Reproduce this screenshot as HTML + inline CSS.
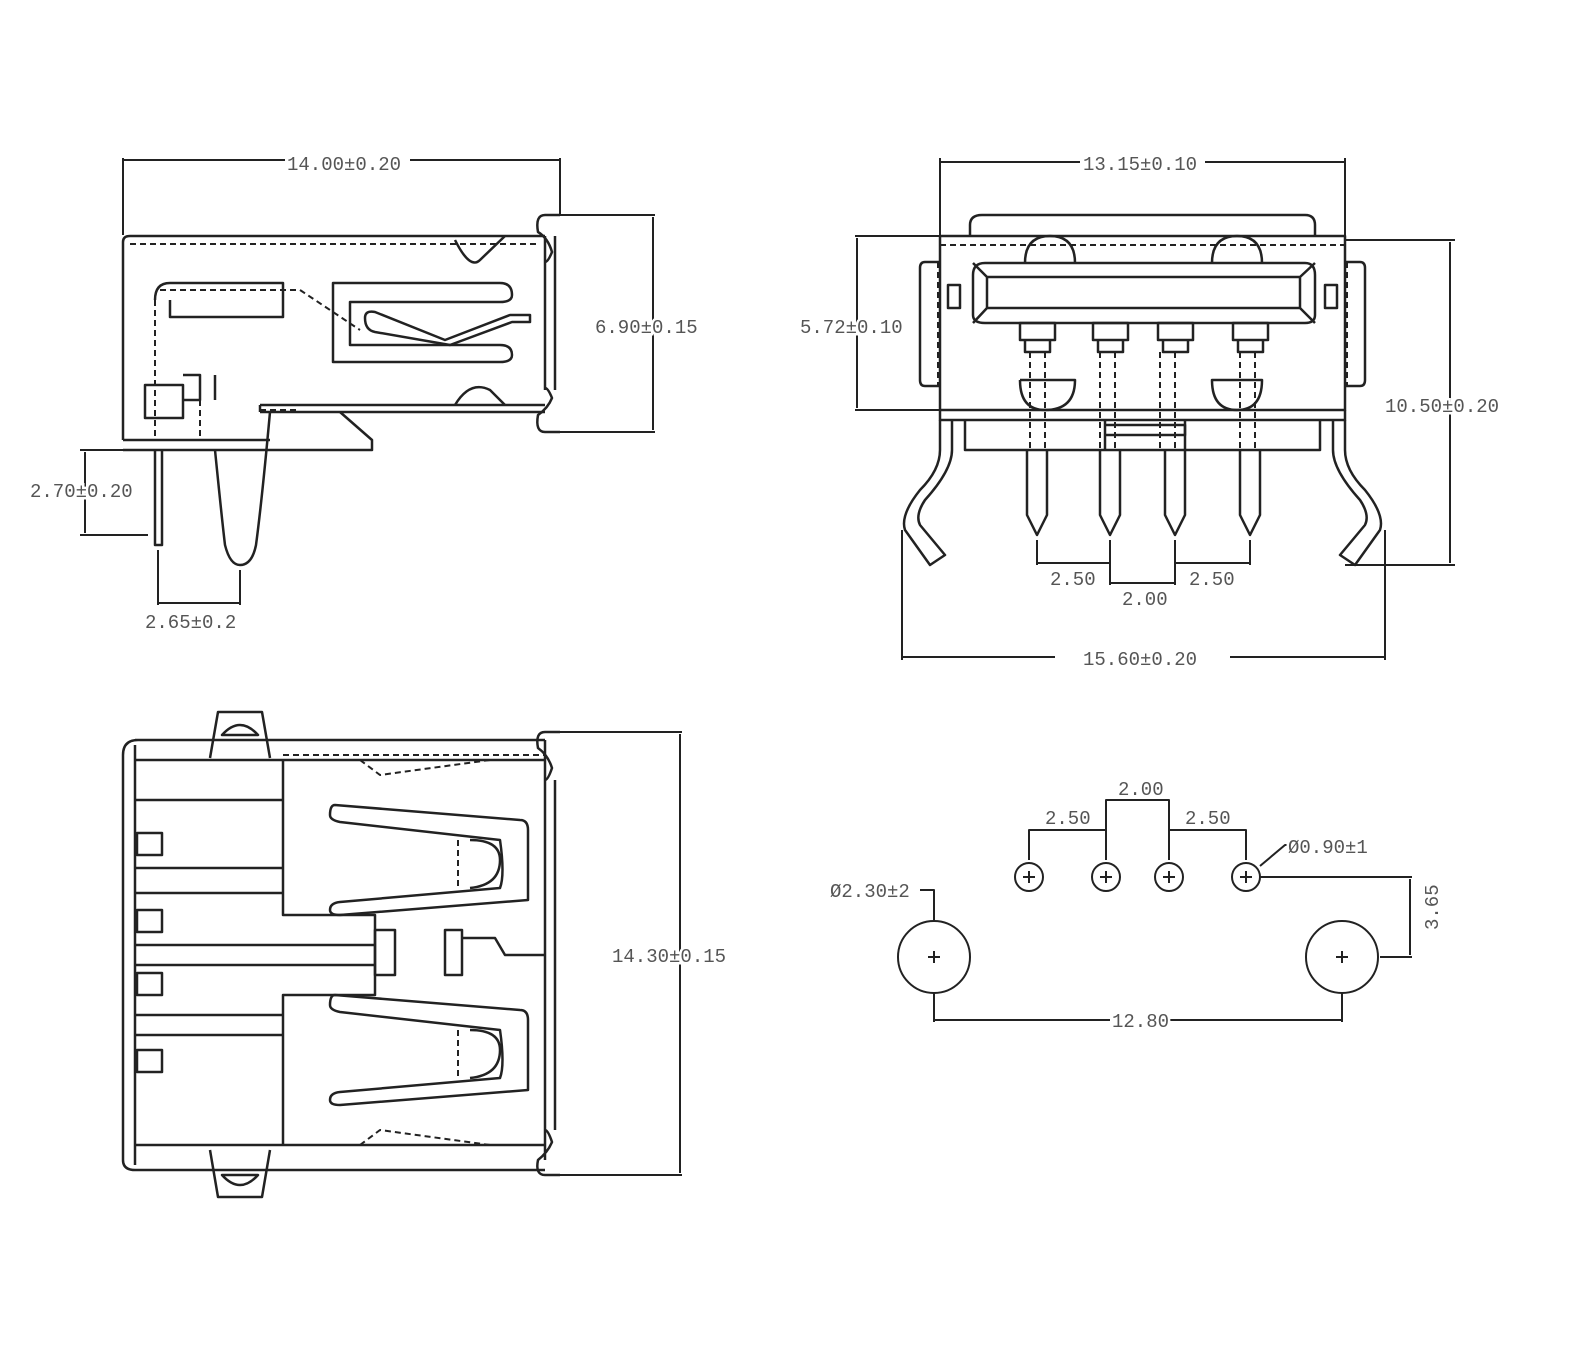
<!DOCTYPE html>
<html><head><meta charset="utf-8"><style>
html,body{margin:0;padding:0;background:#fff}
svg{display:block}
text{font-family:"Liberation Mono",monospace;font-size:19px;fill:#555;stroke:#fff;stroke-width:5px;paint-order:stroke}
</style></head><body>
<svg width="1574" height="1352" viewBox="0 0 1574 1352" xmlns="http://www.w3.org/2000/svg">
<rect width="1574" height="1352" fill="#fff"/>
<g fill="none" stroke="#222" stroke-width="2.5" stroke-linejoin="round">
<path d="M123 160H285M410 160H560M123 158V235M560 158V215" stroke-width="2"/>
<path d="M123 440V242Q123 236 130 236H545"/>
<path d="M545 236V390M555 236V390"/>
<path d="M545 215H560M545 215Q535 215 538 232Q548 238 552 252Q548 262 545 262"/>
<path d="M545 432H560M545 432Q535 432 538 415Q548 408 552 398Q548 388 545 388"/>
<path d="M260 405H545M260 412H545M260 405V412"/>
<path d="M123 440H270M123 450H372V440L340 412"/>
<path d="M155 450V545H162V450"/>
<path d="M215 450Q222 520 225 545Q230 565 240 565Q252 565 256 545Q262 500 270 412"/>
<path d="M155 300Q155 283 170 283H283V317H170V300"/>
<path d="M333 283H500Q512 283 512 295Q512 302 500 302H350V345H500Q512 345 512 355Q512 362 500 362H333Z"/>
<path d="M365 318Q365 310 375 312L445 340L510 315H530V322H512L450 345L375 332Q365 330 365 318Z"/>
<path d="M455 240Q470 270 480 260L505 236M455 405Q470 380 490 390L505 405"/>
<path d="M145 385H183V418H145ZM183 375H200V400H183M215 375V400"/>
<path d="M130 244H540M160 290H300L360 330M155 300V440M200 380V440M260 410H300" stroke-dasharray="6 4" stroke-width="2"/>
<path d="M80 450H148M80 535H148M85 452V533M158 550V605M240 570V605M158 603H240" stroke-width="2"/>
<path d="M560 215H655M560 432H655M653 217V430" stroke-width="2"/>
<path d="M940 162H1080M1205 162H1345M940 158V236M1345 158V236" stroke-width="2"/>
<path d="M940 236H1345V410H940Z"/>
<path d="M970 236V225Q970 215 982 215H1305Q1315 215 1315 225V236"/>
<path d="M973 275Q973 263 985 263H1305Q1315 263 1315 275V315Q1315 323 1305 323H985Q973 323 973 315Z"/>
<path d="M987 277H1300V308H987ZM973 263L987 277M1315 263L1300 277M973 323L987 308M1315 323L1300 308"/>
<path d="M940 262H925Q920 262 920 268V380Q920 386 925 386H940M1345 262H1360Q1365 262 1365 268V380Q1365 386 1360 386H1345"/>
<path d="M948 285H960V308H948ZM1325 285H1337V308H1325Z"/>
<path d="M1025 263Q1025 236 1050 236Q1075 236 1075 263M1212 263Q1212 236 1237 236Q1262 236 1262 263"/>
<path d="M1020 380Q1020 410 1045 410Q1075 410 1075 380H1020M1212 380Q1212 410 1237 410Q1262 410 1262 380Z"/>
<g id="p">
<path d="M1020 323H1055V340H1020ZM1025 340H1050V352H1025Z"/>
<path d="M1027 450V515L1037 535L1047 515V450"/>
</g>
<use href="#p" x="73"/><use href="#p" x="138"/><use href="#p" x="213"/>
<path d="M940 410V420H1345V410M965 420V450H1320V420M1105 420V450M1185 420V450"/>
<path d="M1105 425H1185V435H1105"/>
<path d="M940 420V450Q940 470 920 490Q900 515 905 530L930 565L945 555L920 525Q915 515 925 500Q952 470 952 450V420"/>
<path d="M1345 420V450Q1345 470 1365 490Q1385 515 1380 530L1355 565L1340 555L1365 525Q1370 515 1360 500Q1333 470 1333 450V420"/>
<path d="M940 245H1345M938 262V385M1347 262V385M1030 352V450M1045 352V450M1100 352V450M1115 352V450M1160 352V450M1175 352V450M1240 352V450M1255 352V450" stroke-dasharray="6 4" stroke-width="2"/>
<path d="M855 236H940M855 410H940M857 238V408" stroke-width="2"/>
<path d="M1345 240H1455M1345 565H1455M1450 242V563" stroke-width="2"/>
<path d="M1037 540V565M1037 563H1110M1110 540V585M1110 583H1175M1175 540V585M1175 563H1250M1250 540V565" stroke-width="2"/>
<path d="M902 530V660M1385 530V660M902 657H1055M1230 657H1385" stroke-width="2"/>
<path d="M135 740H545M123 755Q123 740 138 740M123 755V1160Q123 1170 135 1170H545"/>
<path d="M135 745V1165M135 760H283M135 800H283M135 868H283M135 893H283M135 945H375M135 965H375M135 1015H283M135 1035H283M135 1145H283"/>
<path d="M283 760V915H375V995H283V1145"/>
<path d="M283 760H545M283 1145H545"/>
<path d="M210 758L218 712H262L270 758M222 735Q240 715 258 735Z"/>
<path d="M210 1150L218 1197H262L270 1150M222 1175Q240 1195 258 1175Z"/>
<path d="M545 740V1160M555 780V1130M545 732H560M545 732Q535 732 538 748Q548 755 552 768Q548 780 545 780M545 1175H560M545 1175Q535 1175 538 1160Q548 1152 552 1142Q548 1130 545 1130"/>
<path d="M335 805L520 820Q528 820 528 830V900L340 915Q330 915 330 910Q330 903 340 902L500 888Q505 875 500 840L340 822Q330 820 330 815Q330 805 335 805Z"/>
<path d="M335 995L520 1010Q528 1010 528 1020V1090L340 1105Q330 1105 330 1100Q330 1093 340 1092L500 1078Q505 1065 500 1030L340 1012Q330 1010 330 1005Q330 995 335 995Z"/>
<path d="M470 840Q500 840 500 860Q500 885 470 888M470 1030Q500 1030 500 1050Q500 1075 470 1078"/>
<path d="M375 930H395V975H375ZM445 930H462V975H445ZM462 938H495L505 955H545"/>
<path d="M137 833H162V855H137ZM137 910H162V932H137ZM137 973H162V995H137ZM137 1050H162V1072H137Z"/>
<path d="M360 760L380 775L490 760M360 1145L380 1130L490 1145M458 840V890M458 1030V1080M283 755H545" stroke-dasharray="6 4" stroke-width="2"/>
<path d="M560 732H682M560 1175H682M680 734V1173" stroke-width="2"/>
<g stroke-width="2">
<circle cx="1029" cy="877" r="14"/><circle cx="1106" cy="877" r="14"/><circle cx="1169" cy="877" r="14"/><circle cx="1246" cy="877" r="14"/>
<circle cx="934" cy="957" r="36"/><circle cx="1342" cy="957" r="36"/>
<path d="M1023 877H1035M1029 871V883M1100 877H1112M1106 871V883M1163 877H1175M1169 871V883M1240 877H1252M1246 871V883M928 957H940M934 951V963M1336 957H1348M1342 951V963"/>
<path d="M1029 860V830H1106M1106 860V800H1169V860M1169 830H1246V860"/>
<path d="M1260 877H1412M1380 957H1412M1410 879V955"/>
<path d="M1260 866L1285 845H1295M920 890H934V920"/>
<path d="M934 993V1022M1342 993V1022M934 1020H1110M1165 1020H1342"/>
</g>
</g>
<g>
<text x="287" y="170">14.00±0.20</text>
<text x="595" y="333">6.90±0.15</text>
<text x="30" y="497">2.70±0.20</text>
<text x="145" y="628">2.65±0.2</text>
<text x="1083" y="170">13.15±0.10</text>
<text x="800" y="333">5.72±0.10</text>
<text x="1385" y="412">10.50±0.20</text>
<text x="1050" y="585">2.50</text>
<text x="1122" y="605">2.00</text>
<text x="1189" y="585">2.50</text>
<text x="1083" y="665">15.60±0.20</text>
<text x="612" y="962">14.30±0.15</text>
<text x="1118" y="795">2.00</text>
<text x="1045" y="824">2.50</text>
<text x="1185" y="824">2.50</text>
<text x="1288" y="853">Ø0.90±1</text>
<text x="830" y="897">Ø2.30±2</text>
<text x="1112" y="1027">12.80</text>
<text transform="translate(1438 930) rotate(-90)">3.65</text>
</g>
</svg>
</body></html>
